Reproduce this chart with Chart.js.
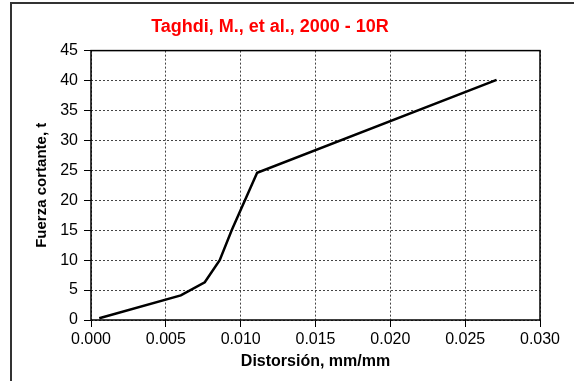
<!DOCTYPE html>
<html>
<head>
<meta charset="utf-8">
<script src="https://cdn.jsdelivr.net/npm/chart.js@4.4.0/dist/chart.umd.min.js"></script>
<style>
  body { margin: 0; background: #fff; }
  canvas { display: block; }
</style>
</head>
<body>
<canvas id="shear_chart" width="574" height="381"></canvas>
<script>
// valores
const distorsion = [0.00055, 0.0060, 0.0076, 0.0086, 0.0094, 0.0111, 0.0271];
const fuerza = [0.3, 4.1, 6.3, 10.0, 15.0, 24.6, 40.1];
const xTicks = [0, 0.005, 0.010, 0.015, 0.020, 0.025, 0.030];
const yTicks = [0, 5, 10, 15, 20, 25, 30, 35, 40, 45];

const fam = "'Liberation Sans', Arial, sans-serif";

// marco exterior y borde del area de trazado
const frame = {
    id: "frame",
    afterDraw(chart) {
        const c = chart.ctx, a = chart.chartArea;
        c.save();
        c.strokeStyle = "#333";
        c.lineWidth = 2;
        c.beginPath();
        c.moveTo(11, 381);
        c.lineTo(11, 3);
        c.lineTo(574, 3);
        c.stroke();
        c.strokeStyle = "#000";
        c.lineWidth = 1.5;
        c.strokeRect(a.left, a.top, a.right - a.left, a.bottom - a.top);
        c.restore();
    }
};

let ctx = document.getElementById("shear_chart");
let shear_chart = new Chart(ctx, {
    type: "scatter",
    plugins: [frame],
    data: {
        datasets: [
            {
                data: distorsion.map((x, i) => ({x: x, y: fuerza[i]})),
                showLine: true,
                borderColor: "#000",
                borderWidth: 2.5,
                pointRadius: 0,
                tension: 0
            }
        ]
    },
    options: {
        responsive: false,
        animation: false,
        layout: { padding: { left: 0, right: 34, top: 0, bottom: 0 } },
        plugins: {
            legend: { display: false },
            tooltip: { enabled: false },
            title: {
                display: true,
                text: "Taghdi, M., et al., 2000 - 10R",
                color: "#ff0000",
                font: { family: fam, size: 18, weight: "bold" },
                padding: { top: 16, bottom: 13 }
            }
        },
        scales: {
            x: {
                type: "linear",
                min: 0,
                max: 0.03,
                afterBuildTicks: s => { s.ticks = xTicks.map(v => ({value: v})); },
                afterFit: s => { s.height = 61; },
                ticks: {
                    color: "#000",
                    font: { family: fam, size: 16 },
                    padding: 3,
                    maxRotation: 0,
                    callback: v => v.toFixed(3)
                },
                grid: {
                    color: "#444",
                    lineWidth: 1,
                    tickColor: "#000",
                    tickLength: 7,
                    tickBorderDash: []
                },
                border: { display: false, dash: [2, 2] },
                title: {
                    display: true,
                    text: "Distorsión, mm/mm",
                    color: "#000",
                    font: { family: fam, size: 16, weight: "bold" },
                    padding: { top: 0, bottom: 10 }
                }
            },
            y: {
                min: 0,
                max: 45,
                afterBuildTicks: s => { s.ticks = yTicks.map(v => ({value: v})); },
                afterFit: s => { s.width = 91; },
                ticks: {
                    color: "#000",
                    font: { family: fam, size: 16 },
                    padding: 6
                },
                grid: {
                    color: "#444",
                    lineWidth: 1,
                    tickColor: "#000",
                    tickLength: 7,
                    tickBorderDash: []
                },
                border: { display: false, dash: [2, 2] },
                title: {
                    display: true,
                    text: "Fuerza cortante, t",
                    color: "#000",
                    font: { family: fam, size: 15, weight: "bold" },
                    padding: { top: 33, bottom: 0 }
                }
            }
        }
    }
});
</script>
</body>
</html>
